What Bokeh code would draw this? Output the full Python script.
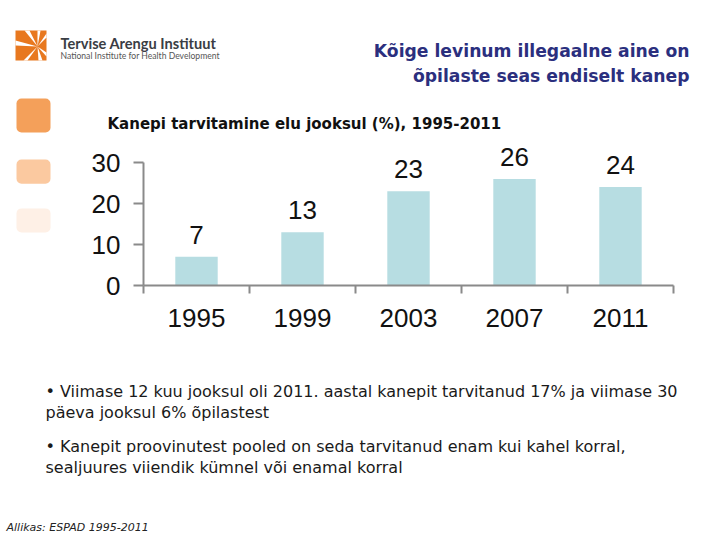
from bokeh.plotting import figure
from bokeh.models import Range1d, FixedTicker, ColumnDataSource
from bokeh.layouts import column, row
from bokeh.core.properties import value
from bokeh.embed import file_html
from bokeh.resources import INLINE

# ---------------- data ----------------
years = ["1995", "1999", "2003", "2007", "2011"]
lifetime_use = [7, 13, 23, 26, 24]
y_ticks = [0, 10, 20, 30]

heading = ["Kõige levinum illegaalne aine on", "õpilaste seas endiselt kanep"]
chart_title = "Kanepi tarvitamine elu jooksul (%), 1995-2011"
bullets = [
    ["• Viimase 12 kuu jooksul oli 2011. aastal kanepit tarvitanud 17%  ja viimase 30",
     "päeva jooksul 6% õpilastest"],
    ["• Kanepit proovinutest pooled on seda tarvitanud enam kui kahel korral,",
     "sealjuures viiendik kümnel või enamal korral"],
]
source_note = "Allikas: ESPAD 1995-2011"
logo_name = "Tervise Arengu Instituut"
logo_sub = "National Institute for Health Development"

TXT_FONT = "DejaVu Sans"
NUM_FONT = "Liberation Sans"
AX = "#8a8a8a"


def deco(x0, x1, y0, y1):
    """Decoration panel whose data coordinates are page pixels (y downwards)."""
    f = figure(width=x1 - x0, height=y1 - y0, x_range=Range1d(x0, x1),
               y_range=Range1d(y1, y0), min_border=0, output_backend="svg",
               toolbar_location=None, x_axis_location=None, y_axis_location=None)
    f.outline_line_color = None
    f.grid.visible = False
    f.background_fill_color = "white"
    f.border_fill_color = "white"
    return f


def txt(f, s, x, y, size, color="#1a1a1a", font=TXT_FONT, style="normal", align="left"):
    f.text(x=[x], y=[y], text=[s], text_font=value(font), text_font_size=size,
           text_font_style=style, text_color=color, text_align=align,
           text_baseline="alphabetic")


# ---------------- top panel ----------------
top = deco(0, 720, 0, 140)
top.quad(left=[15], right=[46], top=[30], bottom=[60], fill_color="#E8781F", line_color=None)
cx, cy = 37, 46
rays = [(15, 40, 15, 45), (24, 30, 29, 30), (37, 30, 40, 30), (46, 33, 46, 37),
        (46, 52, 46, 56), (38, 60, 42, 60), (23, 60, 27, 60)]
top.patches(xs=[[cx, a, c] for a, b, c, d in rays], ys=[[cy, b, d] for a, b, c, d in rays],
            fill_color="white", line_color=None)
txt(top, logo_name, 60, 43, "14.6px", color="#3a3d44", font="Lato", style="bold")
txt(top, logo_sub, 60, 55, "8.6px", color="#555555", font="Lato")
txt(top, heading[0], 689, 50, "17.2px", color="#2B2F7E", style="bold", align="right")
txt(top, heading[1], 689, 75, "17.2px", color="#2B2F7E", style="bold", align="right")
top.quad(left=[16], right=[50], top=[98], bottom=[132], fill_color="#F4A05A",
         line_color=None, border_radius=5)
txt(top, chart_title, 107, 123, "15px", color="#111111", style="bold")

# ---------------- middle left (squares) ----------------
side = deco(0, 60, 140, 345)
side.quad(left=[16, 16], right=[50, 50], top=[167, 236], bottom=[201, 270],
          fill_color=["#FBC9A0", "#FEF0E6"], line_color=None, border_radius=5)

# ---------------- chart ----------------
PX_PER_UNIT = 123 / 30.0
ytop = (285 - 140) / PX_PER_UNIT
p = figure(width=660, height=205, title=None, x_range=Range1d(0, len(years)),
           y_range=Range1d(0, ytop), output_backend="svg", toolbar_location=None,
           min_border_left=143 - 60, min_border_right=720 - 673,
           min_border_top=0, min_border_bottom=345 - 285)
p.background_fill_color = "white"
p.border_fill_color = "white"
p.outline_line_color = None
p.grid.visible = False

xs = [i + 0.5 for i in range(len(years))]
src = ColumnDataSource(dict(x=xs, top=lifetime_use, lab=[str(v) for v in lifetime_use]))
p.vbar(x="x", top="top", width=0.4, source=src, fill_color="#B7DDE2", line_color=None)
p.text(x="x", y="top", text="lab", source=src, y_offset=-22, text_align="center",
       text_baseline="alphabetic", text_font=value(NUM_FONT), text_font_size="26px",
       text_color="#111111")

xa = p.xaxis[0]
xa.ticker = FixedTicker(ticks=xs, minor_ticks=list(range(len(years) + 1)))
xa.major_label_overrides = {x: y for x, y in zip(xs, years)}
xa.major_tick_out = 0
xa.major_tick_in = 0
xa.minor_tick_out = 8
xa.minor_tick_in = 0
xa.minor_tick_line_color = AX
xa.minor_tick_line_width = 2
xa.axis_line_color = AX
xa.axis_line_width = 2
xa.major_label_standoff = 15
xa.major_label_text_font = NUM_FONT
xa.major_label_text_font_size = "26px"
xa.major_label_text_color = "#111111"

ya = p.yaxis[0]
ya.ticker = FixedTicker(ticks=y_ticks, minor_ticks=[])
ya.bounds = (y_ticks[0], y_ticks[-1])
ya.major_tick_out = 10
ya.major_tick_in = 0
ya.major_tick_line_color = AX
ya.major_tick_line_width = 2
ya.minor_tick_line_color = None
ya.axis_line_color = AX
ya.axis_line_width = 2
ya.major_label_standoff = 13
ya.major_label_text_font = NUM_FONT
ya.major_label_text_font_size = "26px"
ya.major_label_text_color = "#111111"

# ---------------- bottom panel ----------------
bot = deco(0, 720, 345, 540)
for b, lines in zip([391, 446], bullets):
    for k, line in enumerate(lines):
        txt(bot, line, 45, b + 21 * k, "16px")
txt(bot, source_note, 6, 527, "11px", color="#222222", style="italic")

layout = column(top, row(side, p), bot)
open("out.html", "w").write(file_html(layout, INLINE))
